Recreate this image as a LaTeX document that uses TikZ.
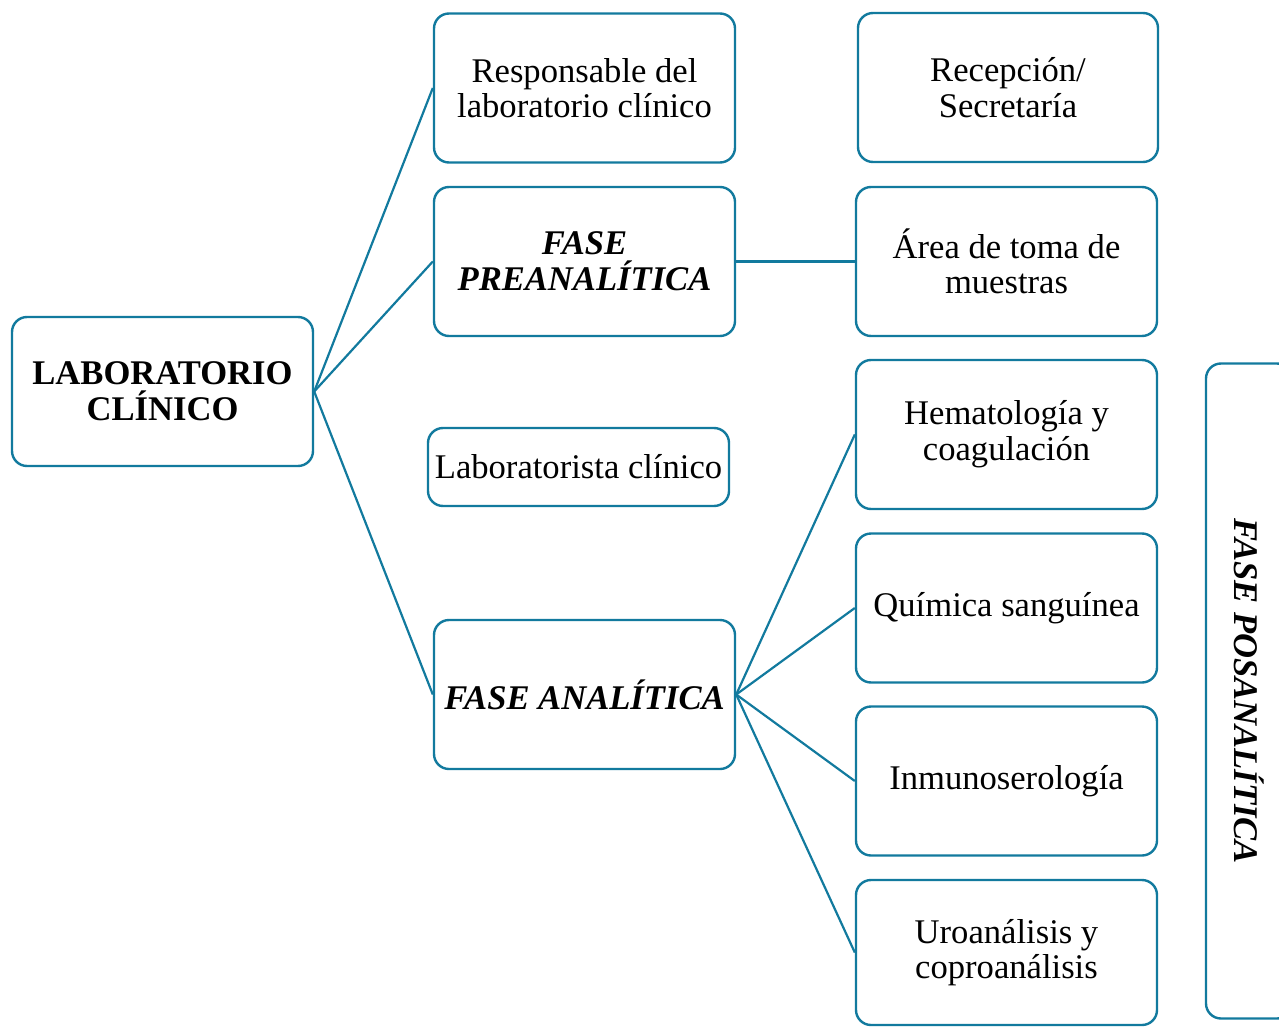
\documentclass[tikz,border=0pt]{standalone}
\usepackage{fontspec}
\setmainfont{Liberation Serif}
\definecolor{edge}{RGB}{18,122,158}
\tikzset{
  box/.style={draw=edge, line width=2.4pt, rounded corners=15pt, fill=white,
    align=center, inner sep=1pt, font=\fontsize{34.6}{35.6}\selectfont,
    minimum width=301pt, minimum height=149pt},
  conn/.style={draw=edge, line width=2.2pt},
}
\begin{document}
\begin{tikzpicture}[x=1pt,y=-1pt]
\useasboundingbox (0,0) rectangle (1279,1027);
\node[box] (lab) at (162.5,391.5) {\textbf{LABORATORIO}\\\textbf{CLÍNICO}};
\node[box] (resp) at (584.5,88) {Responsable del\\laboratorio clínico};
\node[box] (pre) at (584.5,261.5) {\textbf{\textit{FASE}}\\\textbf{\textit{PREANALÍTICA}}};
\node[box, minimum height=78pt] (labt) at (578.5,467) {Laboratorista clínico};
\node[box] (ana) at (584.5,694.5) {\textbf{\textit{FASE ANALÍTICA}}};
\node[box, minimum width=300pt] (rec) at (1008,87.5) {Recepción/\\Secretaría};
\node[box] (area) at (1006.5,261.5) {Área de toma de\\muestras};
\node[box] (hema) at (1006.5,434.5) {Hematología y\\coagulación};
\node[box] (quim) at (1006.5,608) {Química sanguínea};
\node[box] (inmu) at (1006.5,781) {Inmunoserología};
\node[box, minimum height=145pt] (uro) at (1006.5,952.5) {Uroanálisis y\\coproanálisis};
\node[box, minimum width=655pt, minimum height=86pt, rotate=-90] (pos) at (1249,691) {\textbf{\textit{FASE POSANALÍTICA}}};
% connectors
\draw[conn] (lab.east) -- (resp.west);
\draw[conn] (lab.east) -- (pre.west);
\draw[conn] (lab.east) -- (ana.west);
\draw[conn] (pre.east) -- (area.west);
\draw[conn] (ana.east) -- (hema.west);
\draw[conn] (ana.east) -- (quim.west);
\draw[conn] (ana.east) -- (inmu.west);
\draw[conn] (ana.east) -- (uro.west);
\end{tikzpicture}
\end{document}
